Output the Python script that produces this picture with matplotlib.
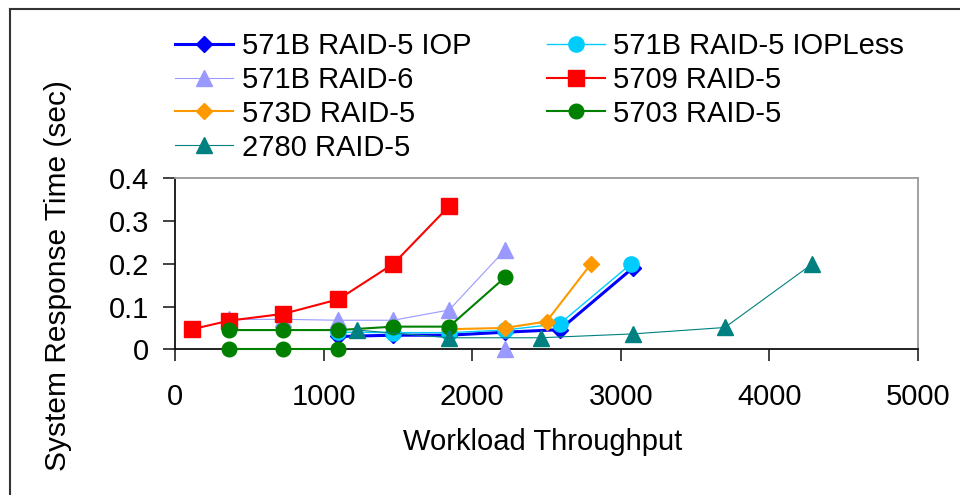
import matplotlib
matplotlib.use("Agg")
import matplotlib.pyplot as plt
from matplotlib.lines import Line2D

plt.rcParams['font.family'] = ['Liberation Sans', 'DejaVu Sans']

# ---- data ----
iop_x = [1100, 1470, 1845, 2220, 2590, 3080]
iop_y = [0.030, 0.033, 0.033, 0.040, 0.046, 0.190]

iopless_x = [1100, 1470, 1845, 2220, 2590, 3070]
iopless_y = [0.040, 0.039, 0.039, 0.045, 0.060, 0.200]

raid6_x = [365, 730, 1100, 1470, 1845, 2220]
raid6_y = [0.070, 0.070, 0.068, 0.068, 0.092, 0.232]
raid6_extra_x = [2220]
raid6_extra_y = [0.0]

r5709_x = [115, 365, 730, 1100, 1470, 1845]
r5709_y = [0.047, 0.067, 0.083, 0.117, 0.200, 0.335]

r573d_x = [1845, 2220, 2500, 2800]
r573d_y = [0.047, 0.050, 0.065, 0.200]

r5703_x = [365, 730, 1100, 1470, 1845, 2220]
r5703_y = [0.045, 0.045, 0.045, 0.053, 0.053, 0.168]
r5703_low_x = [365, 730, 1100]
r5703_low_y = [0.0, 0.0, 0.0]

r2780_x = [1225, 1845, 2460, 3080, 3700, 4290]
r2780_y = [0.045, 0.027, 0.027, 0.036, 0.051, 0.200]

labels = ["571B RAID-5 IOP", "571B RAID-5 IOPLess", "571B RAID-6", "5709 RAID-5",
          "573D RAID-5", "5703 RAID-5", "2780 RAID-5"]
x_ticks = [0, 1000, 2000, 3000, 4000, 5000]
y_ticks = [0, 0.1, 0.2, 0.3, 0.4]
y_tick_labels = ["0", "0.1", "0.2", "0.3", "0.4"]

FS = 21

fig = plt.figure(figsize=(9.6, 4.95), dpi=100)
ax = fig.add_axes([175/960, 1-349.3/495, (918-175)/960, (349.3-178.3)/495])

styles = {
    "571B RAID-5 IOP": dict(color="#0000FF", marker="D", ms=8.5, lw=2.2),
    "571B RAID-5 IOPLess": dict(color="#00CCFF", marker="o", ms=11, lw=1.0),
    "571B RAID-6": dict(color="#9999FF", marker="^", ms=12, lw=0.8),
    "5709 RAID-5": dict(color="#FF0000", marker="s", ms=12, lw=1.5),
    "573D RAID-5": dict(color="#FF9900", marker="D", ms=8.5, lw=1.5),
    "5703 RAID-5": dict(color="#008000", marker="o", ms=10.5, lw=1.5),
    "2780 RAID-5": dict(color="#008080", marker="^", ms=12, lw=0.8),
}

series = [
    ("571B RAID-5 IOP", iop_x, iop_y),
    ("571B RAID-5 IOPLess", iopless_x, iopless_y),
    ("571B RAID-6", raid6_x, raid6_y),
    ("5709 RAID-5", r5709_x, r5709_y),
    ("573D RAID-5", r573d_x, r573d_y),
    ("5703 RAID-5", r5703_x, r5703_y),
    ("2780 RAID-5", r2780_x, r2780_y),
]

handles = {}
for z, (name, xs, ys) in enumerate(series):
    st = styles[name]
    h, = ax.plot(xs, ys, color=st["color"], marker=st["marker"], ms=st["ms"],
                 lw=st["lw"], mec=st["color"], zorder=3 + z, clip_on=False)
    handles[name] = h
    if name == "571B RAID-6":
        ax.plot(raid6_extra_x, raid6_extra_y, color=st["color"], marker=st["marker"],
                ms=st["ms"], lw=st["lw"], zorder=3 + z, clip_on=False)
    if name == "5703 RAID-5":
        ax.plot(r5703_low_x, r5703_low_y, color=st["color"], marker=st["marker"],
                ms=st["ms"], lw=st["lw"], zorder=3 + z, clip_on=False)

ax.set_xlim(0, 5000)
ax.set_ylim(0, 0.4)
ax.set_xticks(x_ticks)
ax.set_yticks(y_ticks)
ax.set_yticklabels(y_tick_labels)
ax.tick_params(axis='both', direction='out', length=8.5, width=1.2, labelsize=FS,
               color='#222222')
ax.tick_params(axis='x', pad=16)
ax.tick_params(axis='y', pad=10)
for s in ['left', 'bottom']:
    ax.spines[s].set_color('#111111')
    ax.spines[s].set_linewidth(1.3)
for s in ['top', 'right']:
    ax.spines[s].set_color('#999999')
    ax.spines[s].set_linewidth(1.3)

fig.text(543/960, 1-442/495, "Workload Throughput", fontsize=FS,
         ha='center', va='center')
fig.text(58/960, 1-276/495, "System Response Time (sec)", fontsize=21.5,
         ha='center', va='center', rotation=90)

order = ["571B RAID-5 IOP", "571B RAID-6", "573D RAID-5", "2780 RAID-5",
         "571B RAID-5 IOPLess", "5709 RAID-5", "5703 RAID-5"]
fig.legend([handles[n] for n in order], order, ncol=2, frameon=False,
           fontsize=FS, loc='upper left', bbox_to_anchor=(175/960, 1-32/495),
           handlelength=2.0, handletextpad=0.28, columnspacing=2.6,
           labelspacing=0.2, borderaxespad=0, borderpad=0)

# figure border (left and top visible)
fig.add_artist(Line2D([10/960, 10/960], [0, 1-9/495], transform=fig.transFigure,
                      color='#333333', lw=1.5))
fig.add_artist(Line2D([10/960, 1], [1-9/495, 1-9/495], transform=fig.transFigure,
                      color='#333333', lw=1.5))

fig.savefig("out.png", dpi=100)
